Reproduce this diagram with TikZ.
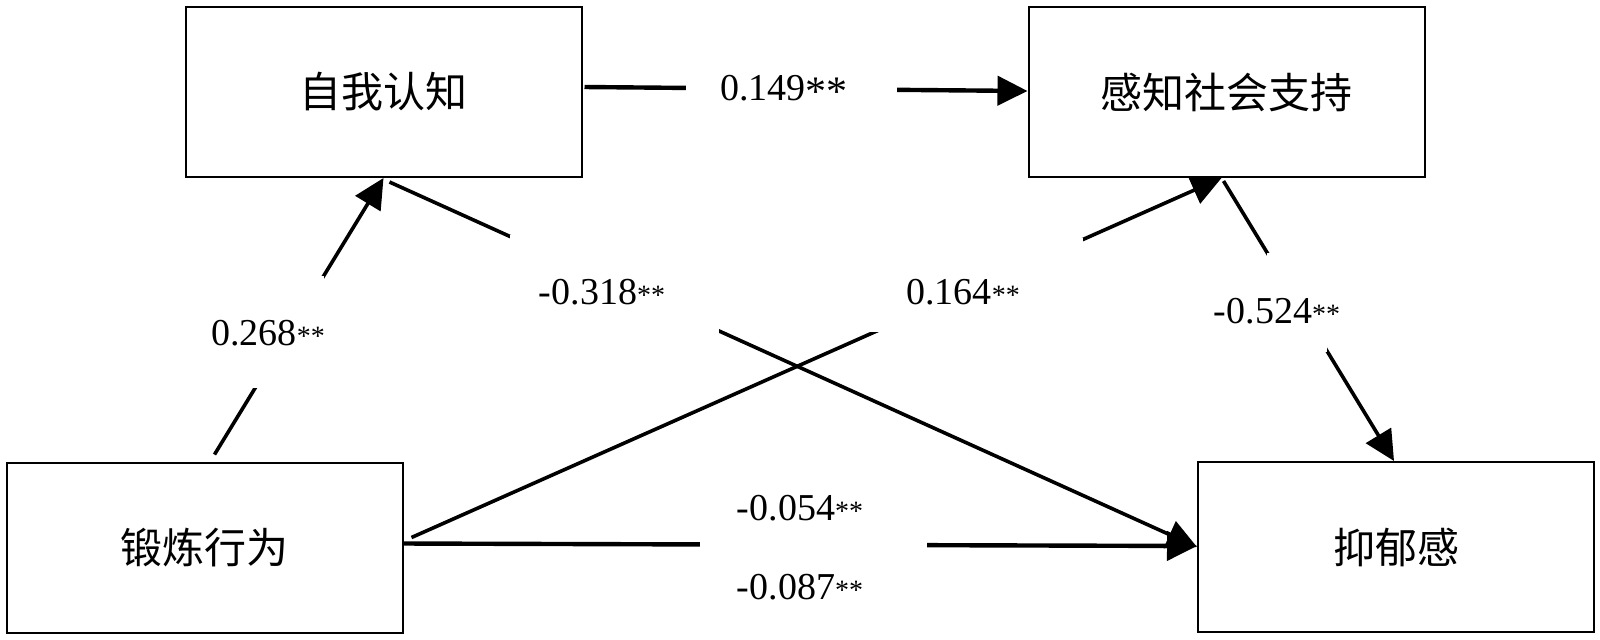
\documentclass[tikz,border=0pt]{standalone}
\usepackage{fontspec}
\setmainfont{Liberation Serif}
\newfontfamily\cjk{Noto Sans CJK SC}
\usetikzlibrary{arrows.meta,calc}
\newcommand{\sigsm}{{\fontsize{14pt}{14pt}\selectfont **}}
\newcommand{\sigbig}{\raisebox{-2.5pt}{\fontsize{21pt}{21pt}\selectfont **}}
\begin{document}
\begin{tikzpicture}[x=0.5pt,y=-0.5pt,
  box/.style={draw,line width=1pt,minimum width=198pt,minimum height=85pt,inner sep=0pt,font=\cjk\fontsize{21pt}{21pt}\selectfont},
  conn/.style={line width=1.8pt},
  arr/.style={conn,-{Triangle[length=15pt,width=14.5pt]}},
  cover/.style={fill=white,inner sep=0pt},
  coef/.style={inner sep=0pt,font=\fontsize{19pt}{19pt}\selectfont}]
\useasboundingbox[fill=white] (0,0) rectangle (1600,639);
% boxes
\node[box] (B1) at (383.5,92) {自我认知};
\node[box] (B2) at (1226.5,92) {感知社会支持};
\node[box] (B3) at (204.5,547.5) {锻炼行为};
\node[box] (B4) at (1396,547) {抑郁感};
% connectors
\draw[arr,line width=2.2pt] ($(B1.east)+(2,-5)$) -- ($(B2.west)+(0,-1)$);
\draw[arr] ($(B3.north)+(10,-7)$) -- (B1.south);
\draw[arr] ($(B1.south)+(6,4)$) -- (B4.west);
\draw[arr] ($(B3.east)+(8,-10)$) -- ($(B2.south)+(-5,0)$);
\draw[arr] ($(B2.south)+(-3,3)$) -- ($(B4.north)+(-2,0)$);
\draw[arr,line width=2.2pt] ($(B3.east)+(0,-4)$) -- ($(B4.west)+(0,-1)$);
% label backgrounds
\node[cover,minimum width=105.5pt,minimum height=15pt] (g149) at (791.5,89) {};
\node[cover,minimum width=36pt,minimum height=56pt] (g268) at (288,332) {};
\node[cover,minimum width=104.5pt,minimum height=49pt] (g318) at (614.5,284) {};
\node[cover,minimum width=106.5pt,minimum height=47pt] (g164) at (976.5,285) {};
\node[cover,minimum width=30pt,minimum height=49.5pt] (g524) at (1297,302.5) {};
\node[cover,minimum width=113.5pt,minimum height=15pt] (gdir) at (813.5,545) {};
% labels
\node[coef] (t149) at (784,90) {0.149\sigbig};
\node[coef] (t268) at (268,333) {0.268\sigsm};
\node[coef] (t318) at (602,292) {-0.318\sigsm};
\node[coef] (t164) at (963,292) {0.164\sigsm};
\node[coef] (t524) at (1277,311) {-0.524\sigsm};
\node[coef] (t054) at (800,508) {-0.054\sigsm};
\node[coef] (t087) at (800,587) {-0.087\sigsm};
\end{tikzpicture}
\end{document}
